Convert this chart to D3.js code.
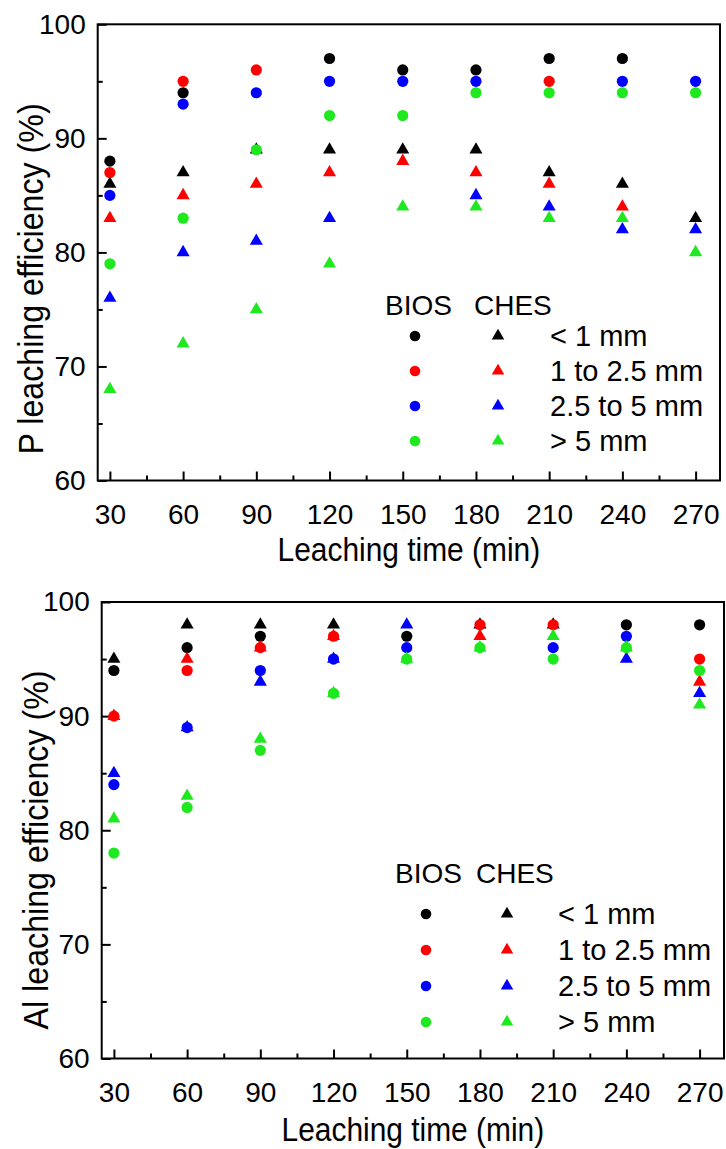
<!DOCTYPE html>
<html>
<head>
<meta charset="utf-8">
<script src="https://cdn.jsdelivr.net/npm/d3@7"></script>
<style>
  body { margin: 0; background: #ffffff; }
  svg text { font-family: "Liberation Sans", Arial, sans-serif; fill: #000; }
</style>
</head>
<body>
<svg id="chart" width="726" height="1149"></svg>
<script>
// Leaching times (min) and axis ticks
const times = [30, 60, 90, 120, 150, 180, 210, 240, 270];
const xMajorTicks = [30, 60, 90, 120, 150, 180, 210, 240, 270];
const xMinorTicks = [45, 75, 105, 135, 165, 195, 225, 255];
const yMajorTicks = [60, 70, 80, 90, 100];
const yMinorTicks = [65, 75, 85, 95];

// Particle size classes and the two sample groups
const sizeClasses = ["< 1 mm", "1 to 2.5 mm", "2.5 to 5 mm", "> 5 mm"];
const groupLabels = ["BIOS", "CHES"];

// null = point coincides with (and is covered by) another marker
// P leaching efficiency (%) — BIOS (circles)
const pBiosLt1   = [88, 94, null, 97, 96, 96, 97, 97, null];
const pBios1to25 = [87, 95, 96, null, null, null, 95, null, null];
const pBios25to5 = [85, 93, 94, 95, 95, 95, null, 95, 95];
const pBiosGt5   = [79, 83, 89, 92, 92, 94, 94, 94, 94];
// P leaching efficiency (%) — CHES (triangles)
const pChesLt1   = [86, 87, 89, 89, 89, 89, 87, 86, 83];
const pChes1to25 = [83, 85, 86, 87, 88, 87, 86, 84, null];
const pChes25to5 = [76, 80, 81, 83, null, 85, 84, 82, 82];
const pChesGt5   = [68, 72, 75, 79, 84, 84, 83, 83, 80];

// Al leaching efficiency (%) — BIOS (circles)
const alBiosLt1   = [94, 96, 97, null, 97, null, null, 98, 98];
const alBios1to25 = [90, 94, 96, 97, null, 98, 98, null, 95];
const alBios25to5 = [84, 89, 94, 95, 96, null, 96, 97, null];
const alBiosGt5   = [78, 82, 87, 92, 95, 96, 95, 96, 94];
// Al leaching efficiency (%) — CHES (triangles)
const alChesLt1   = [95, 98, 98, 98, null, 98, 98, null, null];
const alChes1to25 = [90, 95, 96, 97, null, 97, null, null, 93];
const alChes25to5 = [85, 89, 93, 95, 98, null, null, 95, 92];
const alChesGt5   = [81, 83, 88, 92, 95, 96, 97, 96, 91];

const seriesColors = ["#000000", "#ff0000", "#0000ff", "#1ee81e"];

const svg = d3.select("#chart");
const FONT = "Liberation Sans, Arial, sans-serif";

function drawPanel(cfg) {
  const g = svg.append("g");
  const x = d3.scaleLinear().domain([25, 280]).range([cfg.left, cfg.right]);
  const y = d3.scaleLinear().domain([60, 100]).range([cfg.bottom, cfg.top]);

  // minor ticks (inward, no labels)
  g.append("g")
    .attr("transform", `translate(0,${cfg.bottom})`)
    .call(d3.axisBottom(x).tickValues(xMinorTicks).tickSize(-5).tickFormat(""))
    .call(a => a.select(".domain").remove());
  g.append("g")
    .attr("transform", `translate(${cfg.left},0)`)
    .call(d3.axisLeft(y).tickValues(yMinorTicks).tickSize(-5).tickFormat(""))
    .call(a => a.select(".domain").remove());

  // major ticks with labels
  const xa = g.append("g")
    .attr("transform", `translate(0,${cfg.bottom})`)
    .call(d3.axisBottom(x).tickValues(xMajorTicks).tickSize(-9).tickPadding(24).tickFormat(d3.format("d")));
  xa.select(".domain").remove();
  xa.selectAll("text").attr("font-size", 28).attr("font-family", FONT).attr("fill", "#000");

  const ya = g.append("g")
    .attr("transform", `translate(${cfg.left},0)`)
    .call(d3.axisLeft(y).tickValues(yMajorTicks).tickSize(-9).tickPadding(12).tickFormat(d3.format("d")));
  ya.select(".domain").remove();
  ya.selectAll("text").attr("font-size", 28).attr("font-family", FONT).attr("fill", "#000");

  g.selectAll(".tick line").attr("stroke", "#000").attr("stroke-width", 2);

  // plot frame
  g.append("rect")
    .attr("x", cfg.left).attr("y", cfg.top)
    .attr("width", cfg.right - cfg.left).attr("height", cfg.bottom - cfg.top)
    .attr("fill", "none").attr("stroke", "#000").attr("stroke-width", 2);

  // data markers: each size class drawn as BIOS circle then CHES triangle
  const tri = d3.symbol().type(d3.symbolTriangle).size(74);
  const marks = g.append("g");
  const pts = vals => vals.map((v, k) => ({ t: times[k], v })).filter(d => d.v != null);
  cfg.bios.forEach((vals, i) => {
    marks.append("g").selectAll("circle")
      .data(pts(vals))
      .join("circle")
      .attr("cx", d => x(d.t)).attr("cy", d => y(d.v))
      .attr("r", 5.6).attr("fill", seriesColors[i]);
    marks.append("g").selectAll("path")
      .data(pts(cfg.ches[i]))
      .join("path")
      .attr("d", tri)
      .attr("transform", d => `translate(${x(d.t)},${y(d.v)})`)
      .attr("fill", seriesColors[i]);
  });

  // axis titles
  g.append("text")
    .attr("transform", `translate(${(cfg.left + cfg.right) / 2},${cfg.xTitleY}) scale(0.88,1)`)
    .attr("text-anchor", "middle").attr("font-size", 34)
    .text("Leaching time (min)");
  g.append("text")
    .attr("transform", `translate(${cfg.yTitleX},${cfg.yTitleY}) rotate(-90) scale(0.92,1)`)
    .attr("text-anchor", "middle").attr("font-size", 35)
    .text(cfg.yTitle);

  // legend
  const L = cfg.legend;
  g.append("text").attr("x", L.biosX).attr("y", L.headerY).attr("font-size", 28).text(groupLabels[0]);
  g.append("text").attr("x", L.chesX).attr("y", L.headerY).attr("font-size", 28).text(groupLabels[1]);
  const legTri = d3.symbol().type(d3.symbolTriangle).size(68);
  sizeClasses.forEach((label, i) => {
    const ry = L.rowY0 + i * L.rowStep;
    g.append("circle").attr("cx", L.circleX).attr("cy", ry).attr("r", 5.3).attr("fill", seriesColors[i]);
    g.append("path").attr("d", legTri).attr("transform", `translate(${L.triX},${ry})`).attr("fill", seriesColors[i]);
    g.append("text").attr("x", L.textX).attr("y", ry + 10).attr("font-size", 29).text(label);
  });
}

drawPanel({
  left: 97.7, right: 720, top: 24.3, bottom: 480.5,
  bios: [pBiosLt1, pBios1to25, pBios25to5, pBiosGt5],
  ches: [pChesLt1, pChes1to25, pChes25to5, pChesGt5],
  yTitle: "P leaching efficiency (%)", yTitleX: 43, yTitleY: 279,
  xTitleY: 561,
  legend: { headerY: 315, biosX: 385, chesX: 474, circleX: 415, triX: 498, textX: 550, rowY0: 336, rowStep: 35 }
});

drawPanel({
  left: 101.7, right: 724, top: 602, bottom: 1058.5,
  bios: [alBiosLt1, alBios1to25, alBios25to5, alBiosGt5],
  ches: [alChesLt1, alChes1to25, alChes25to5, alChesGt5],
  yTitle: "Al leaching efficiency (%)", yTitleX: 48, yTitleY: 850,
  xTitleY: 1141,
  legend: { headerY: 883, biosX: 395, chesX: 476, circleX: 426, triX: 507, textX: 558, rowY0: 914, rowStep: 36 }
});
</script>
</body>
</html>
